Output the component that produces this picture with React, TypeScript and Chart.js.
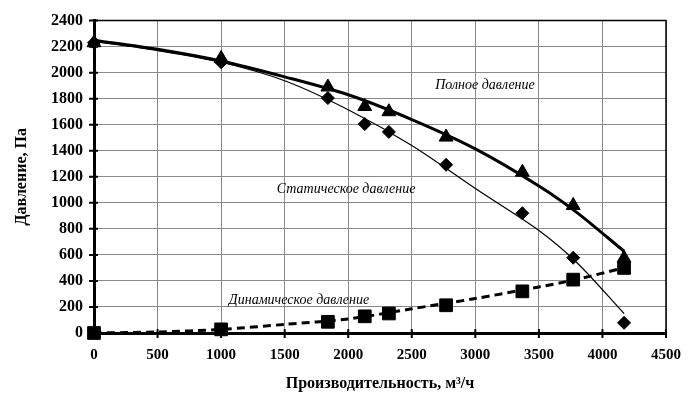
import React, { useEffect, useRef } from "react";
import { Chart, registerables } from "chart.js";

Chart.register(...registerables);

// Measured points
const pointX = [0, 1000, 1840, 2130, 2320, 2770, 3370, 3770, 4170];
const totalPts = [2230, 2110, 1890, 1740, 1700, 1505, 1235, 980, 575];
const staticPts = [2230, 2080, 1805, 1605, 1545, 1292, 920, 578, 78];
const dynamicPts = [0, 28, 86, 128, 150, 213, 320, 410, 500];

// Trend curves
const curveX = [0, 500, 1000, 1500, 2000, 2500, 3000, 3500, 3800, 4170];
const totalCurve = [2250, 2180, 2090, 1968, 1830, 1640, 1415, 1130, 925, 628];
const staticCurve = [2240, 2170, 2080, 1938, 1715, 1440, 1110, 788, 540, 150];
const dynamicCurve = [0, 8, 28, 66, 108, 186, 265, 354, 412, 502];

// Axis ticks
const xTicks = [0, 500, 1000, 1500, 2000, 2500, 3000, 3500, 4000, 4500];
const yTicks = [0, 200, 400, 600, 800, 1000, 1200, 1400, 1600, 1800, 2000, 2200, 2400];

// Labels
const xTitle = "Производительность, м³/ч";
const yTitle = "Давление, Па";
const notes = [
  { text: "Полное давление", x: 3076, y: 1906 },
  { text: "Статическое давление", x: 1983, y: 1101 },
  { text: "Динамическое давление", x: 1613, y: 251 },
];

const SERIF = "'Liberation Serif', 'Times New Roman', serif";

const pairs = (xs: number[], ys: number[]) => xs.map((x, i) => ({ x, y: ys[i] }));

const decor = {
  id: "decor",
  afterDraw(chart: any) {
    const { ctx, chartArea: a, scales } = chart;
    const xs = scales.x;
    const ys = scales.y;
    ctx.save();
    ctx.strokeStyle = "#000";
    ctx.lineWidth = 1.5;
    ctx.beginPath();
    ctx.moveTo(a.left, a.top);
    ctx.lineTo(a.right, a.top);
    ctx.lineTo(a.right, a.bottom);
    ctx.stroke();
    ctx.lineWidth = 2;
    ctx.beginPath();
    xTicks.forEach((v) => {
      const px = xs.getPixelForValue(v);
      ctx.moveTo(px, a.bottom - 4);
      ctx.lineTo(px, a.bottom + 5);
    });
    yTicks.forEach((v) => {
      const py = ys.getPixelForValue(v);
      ctx.moveTo(a.left - 5, py);
      ctx.lineTo(a.left + 4, py);
    });
    ctx.stroke();
    ctx.fillStyle = "#000";
    ctx.font = `bold 16px ${SERIF}`;
    ctx.textAlign = "center";
    ctx.textBaseline = "middle";
    ctx.fillText(xTitle, (a.left + a.right) / 2, 384);
    ctx.save();
    ctx.translate(22, (a.top + a.bottom) / 2);
    ctx.rotate(-Math.PI / 2);
    ctx.fillText(yTitle, 0, 0);
    ctx.restore();
    ctx.font = `italic 14px ${SERIF}`;
    notes.forEach((n) => {
      ctx.fillText(n.text, xs.getPixelForValue(n.x), ys.getPixelForValue(n.y));
    });
    ctx.restore();
  },
};

export default function App() {
  const ref = useRef<HTMLCanvasElement | null>(null);
  useEffect(() => {
    if (!ref.current) return;
    const chart = new Chart(ref.current, {
      type: "scatter",
      data: {
        datasets: [
          {
            data: pairs(pointX, dynamicPts),
            pointStyle: "rect",
            pointRadius: 9,
            backgroundColor: "#000",
            borderColor: "#000",
            showLine: false,
            clip: false,
          },
          {
            data: pairs(pointX, totalPts),
            pointStyle: "triangle",
            pointRadius: 8,
            backgroundColor: "#000",
            borderColor: "#000",
            showLine: false,
            clip: false,
          },
          {
            data: pairs(pointX, staticPts),
            pointStyle: "rectRot",
            pointRadius: 6.5,
            backgroundColor: "#000",
            borderColor: "#000",
            showLine: false,
            clip: false,
          },
          {
            data: pairs(curveX, totalCurve),
            showLine: true,
            borderColor: "#000",
            borderWidth: 3,
            pointRadius: 0,
            tension: 0.3,
          },
          {
            data: pairs(curveX, staticCurve),
            showLine: true,
            borderColor: "#000",
            borderWidth: 1.2,
            pointRadius: 0,
            tension: 0.3,
          },
          {
            data: pairs(curveX, dynamicCurve),
            showLine: true,
            borderColor: "#000",
            borderWidth: 3,
            borderDash: [8, 5],
            pointRadius: 0,
            tension: 0.3,
          },
        ],
      },
      options: {
        animation: false,
        responsive: false,
        maintainAspectRatio: false,
        layout: { padding: { top: 17, right: 32, left: 0, bottom: 0 } },
        plugins: { legend: { display: false }, tooltip: { enabled: false } },
        scales: {
          x: {
            type: "linear",
            min: 0,
            max: 4500,
            afterFit: (s: any) => {
              s.height = 68;
            },
            afterBuildTicks: (s: any) => {
              s.ticks = xTicks.map((v) => ({ value: v }));
            },
            grid: { color: "#8a8a8a", lineWidth: 1, drawTicks: false },
            border: { color: "#000", width: 3 },
            ticks: {
              color: "#000",
              padding: 13,
              callback: (v: any) => String(v),
              font: { family: SERIF, size: 15, weight: "bold" },
            },
          },
          y: {
            type: "linear",
            min: 0,
            max: 2400,
            afterFit: (s: any) => {
              s.width = 94;
            },
            afterBuildTicks: (s: any) => {
              s.ticks = yTicks.map((v) => ({ value: v }));
            },
            grid: { color: "#8a8a8a", lineWidth: 1, drawTicks: false },
            border: { color: "#000", width: 3 },
            ticks: {
              color: "#000",
              padding: 11,
              callback: (v: any) => String(v),
              font: { family: SERIF, size: 16, weight: "bold" },
            },
          },
        },
      },
      plugins: [decor],
    } as any);
    return () => chart.destroy();
  }, []);
  return (
    <div style={{ position: "fixed", left: 0, top: 0, width: 698, height: 401, background: "#fff" }}>
      <canvas ref={ref} width={698} height={401} style={{ width: 698, height: 401, display: "block" }} />
    </div>
  );
}
